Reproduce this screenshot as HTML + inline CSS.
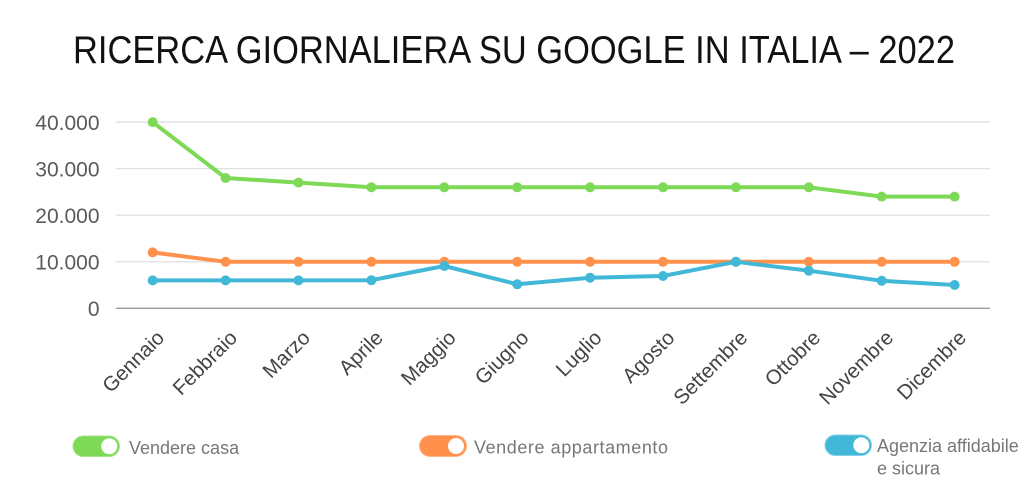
<!DOCTYPE html>
<html>
<head>
<meta charset="utf-8">
<style>
  html, body { margin: 0; padding: 0; background: #ffffff; }
  body { width: 1024px; height: 497px; overflow: hidden; }
  svg { display: block; font-family: "Liberation Sans", "DejaVu Sans", sans-serif; }
</style>
</head>
<body>
<svg width="1024" height="497" viewBox="0 0 1024 497" xmlns="http://www.w3.org/2000/svg">
  <rect width="1024" height="497" fill="#ffffff"/>

  <!-- Title -->
  <text x="73" y="63" font-size="39" fill="#111111" textLength="882" lengthAdjust="spacingAndGlyphs">RICERCA GIORNALIERA SU GOOGLE IN ITALIA – 2022</text>

  <!-- Grid lines -->
  <g stroke="#dcdcdc" stroke-width="1.2">
    <line x1="116" y1="122.1" x2="990" y2="122.1"/>
    <line x1="116" y1="168.7" x2="990" y2="168.7"/>
    <line x1="116" y1="215.2" x2="990" y2="215.2"/>
    <line x1="116" y1="261.8" x2="990" y2="261.8"/>
  </g>
  <line x1="116" y1="308.3" x2="990" y2="308.3" stroke="#9a9a9a" stroke-width="1.3"/>

  <!-- Y labels -->
  <g font-size="21" fill="#5a5a5a" text-anchor="end">
    <text x="99.5" y="130">40.000</text>
    <text x="99.5" y="176.5">30.000</text>
    <text x="99.5" y="223">20.000</text>
    <text x="99.5" y="269.5">10.000</text>
    <text x="99.5" y="316">0</text>
  </g>

  <!-- X labels -->
  <g font-size="20.5" fill="#444444" text-anchor="end">
    <text transform="translate(165.5,339) rotate(-45)">Gennaio</text>
    <text transform="translate(238.4,339) rotate(-45)">Febbraio</text>
    <text transform="translate(311.3,339) rotate(-45)">Marzo</text>
    <text transform="translate(384.2,339) rotate(-45)">Aprile</text>
    <text transform="translate(457.1,339) rotate(-45)">Maggio</text>
    <text transform="translate(530.0,339) rotate(-45)">Giugno</text>
    <text transform="translate(602.9,339) rotate(-45)">Luglio</text>
    <text transform="translate(675.8,339) rotate(-45)">Agosto</text>
    <text transform="translate(748.7,339) rotate(-45)">Settembre</text>
    <text transform="translate(821.6,339) rotate(-45)">Ottobre</text>
    <text transform="translate(894.5,339) rotate(-45)">Novembre</text>
    <text transform="translate(967.4,339) rotate(-45)">Dicembre</text>
  </g>

  <!-- Series: Vendere casa (green) -->
  <polyline fill="none" stroke="#7ed957" stroke-width="4" stroke-linejoin="round" stroke-linecap="round"
    points="152.7,122.1 225.6,178.0 298.5,182.6 371.4,187.3 444.3,187.3 517.2,187.3 590.1,187.3 663.0,187.3 735.9,187.3 808.8,187.3 881.7,196.6 954.6,196.6"/>
  <g fill="#7ed957">
    <circle cx="152.7" cy="122.1" r="5"/><circle cx="225.6" cy="178.0" r="5"/><circle cx="298.5" cy="182.6" r="5"/>
    <circle cx="371.4" cy="187.3" r="5"/><circle cx="444.3" cy="187.3" r="5"/><circle cx="517.2" cy="187.3" r="5"/>
    <circle cx="590.1" cy="187.3" r="5"/><circle cx="663.0" cy="187.3" r="5"/><circle cx="735.9" cy="187.3" r="5"/>
    <circle cx="808.8" cy="187.3" r="5"/><circle cx="881.7" cy="196.6" r="5"/><circle cx="954.6" cy="196.6" r="5"/>
  </g>

  <!-- Series: Vendere appartamento (orange) -->
  <polyline fill="none" stroke="#ff914d" stroke-width="4" stroke-linejoin="round" stroke-linecap="round"
    points="152.7,252.4 225.6,261.8 298.5,261.8 371.4,261.8 444.3,261.8 517.2,261.8 590.1,261.8 663.0,261.8 735.9,261.8 808.8,261.8 881.7,261.8 954.6,261.8"/>
  <g fill="#ff914d">
    <circle cx="152.7" cy="252.4" r="5"/><circle cx="225.6" cy="261.8" r="5"/><circle cx="298.5" cy="261.8" r="5"/>
    <circle cx="371.4" cy="261.8" r="5"/><circle cx="444.3" cy="261.8" r="5"/><circle cx="517.2" cy="261.8" r="5"/>
    <circle cx="590.1" cy="261.8" r="5"/><circle cx="663.0" cy="261.8" r="5"/><circle cx="735.9" cy="261.8" r="5"/>
    <circle cx="808.8" cy="261.8" r="5"/><circle cx="881.7" cy="261.8" r="5"/><circle cx="954.6" cy="261.8" r="5"/>
  </g>

  <!-- Series: Agenzia affidabile e sicura (blue) -->
  <polyline fill="none" stroke="#41b8d8" stroke-width="4" stroke-linejoin="round" stroke-linecap="round"
    points="152.7,280.4 225.6,280.4 298.5,280.4 371.4,280.2 444.3,266.0 517.2,284.3 590.1,277.7 663.0,276.0 735.9,261.8 808.8,270.7 881.7,280.8 954.6,285.0"/>
  <g fill="#41b8d8">
    <circle cx="152.7" cy="280.4" r="5"/><circle cx="225.6" cy="280.4" r="5"/><circle cx="298.5" cy="280.4" r="5"/>
    <circle cx="371.4" cy="280.2" r="5"/><circle cx="444.3" cy="266.0" r="5"/><circle cx="517.2" cy="284.3" r="5"/>
    <circle cx="590.1" cy="277.7" r="5"/><circle cx="663.0" cy="276.0" r="5"/><circle cx="735.9" cy="261.8" r="5"/>
    <circle cx="808.8" cy="270.7" r="5"/><circle cx="881.7" cy="280.8" r="5"/><circle cx="954.6" cy="285.0" r="5"/>
  </g>

  <!-- Legend -->
  <g>
    <rect x="73" y="436" width="46.5" height="20.5" rx="10.25" fill="#7ed957" stroke="#a6e68b" stroke-width="1"/>
    <circle cx="109.3" cy="446.2" r="8" fill="#ffffff"/>
    <text x="129" y="454" font-size="18" fill="#777777">Vendere casa</text>

    <rect x="419.5" y="435.5" width="47" height="21" rx="10.5" fill="#ff914d" stroke="#ffb487" stroke-width="1"/>
    <circle cx="456" cy="446" r="8" fill="#ffffff"/>
    <text x="474" y="453.5" font-size="18" fill="#777777" textLength="194" lengthAdjust="spacing">Vendere appartamento</text>

    <rect x="825" y="435" width="46.5" height="20.5" rx="10.25" fill="#41b8d8" stroke="#86d2e8" stroke-width="1"/>
    <circle cx="861.3" cy="445.2" r="8" fill="#ffffff"/>
    <text x="877" y="452" font-size="18" fill="#777777">Agenzia affidabile</text>
    <text x="877" y="474.5" font-size="18" fill="#777777">e sicura</text>
  </g>
</svg>
</body>
</html>
